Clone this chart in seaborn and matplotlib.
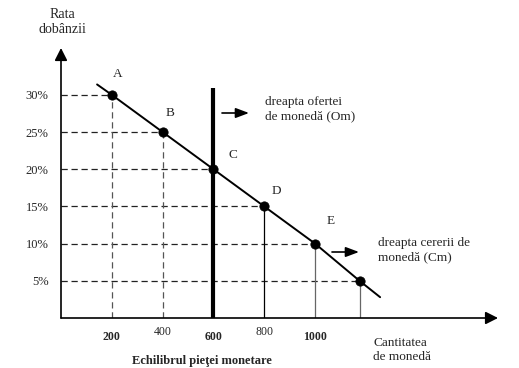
import matplotlib
matplotlib.use("Agg")
import matplotlib.pyplot as plt
import matplotlib.transforms as mtransforms
import seaborn as sns
import pandas as pd

# money market data
quantity = [200, 400, 600, 800, 1000, 1175]
rate = [30, 25, 20, 15, 10, 5]
point_names = ["A", "B", "C", "D", "E", ""]
rate_ticks = [5, 10, 15, 20, 25, 30]
rate_tick_labels = ["5%", "10%", "15%", "20%", "25%", "30%"]
qty_ticks = [200, 400, 600, 800, 1000]
qty_tick_labels = ["200", "400", "600", "800", "1000"]
# demand line runs a little beyond the first and last points
demand_x = [142, 200, 400, 600, 800, 1000, 1175, 1256]
demand_y = [31.4, 30, 25, 20, 15, 10, 5, 2.8]
supply_q = 600
supply_top = 30.9

sns.set_style("white")
plt.rcParams["font.family"] = ["Liberation Serif", "DejaVu Serif"]

W, H = 519, 368
fig = plt.figure(figsize=(W / 100, H / 100), dpi=100)
ax = fig.add_axes([61 / W, 50 / H, (498 - 61) / W, (318 - 48) / H])
ax.set_xlim(0, 1720)
ax.set_ylim(0, 36.3)
for s in ax.spines.values():
    s.set_visible(False)

def fpx(px, py):
    # figure pixel (from top-left) -> figure fraction
    return px / W, 1 - py / H

df = pd.DataFrame({"q": quantity, "r": rate, "name": point_names})
dline = pd.DataFrame({"q": demand_x, "r": demand_y})

# guide lines
ax.hlines(df["r"], 0, df["q"], colors="#222222", linestyles=(0, (5, 3)), lw=0.9)
ax.vlines(df["q"][:2], 0, df["r"][:2], colors="#555555", linestyles=(0, (5, 3)), lw=0.9)
ax.vlines(df["q"][3], 0, df["r"][3], colors="black", lw=0.9)
ax.vlines(df["q"][4:], 0, df["r"][4:], colors="#666666", lw=0.9)

# supply (vertical) and demand lines
ax.vlines(supply_q, 0, supply_top, colors="black", lw=3)
sns.lineplot(data=dline, x="q", y="r", ax=ax, color="black", lw=1.4, sort=False)
sns.scatterplot(data=df, x="q", y="r", ax=ax, color="black", s=45, edgecolor="black", zorder=5)

offsets = {"A": (4, 15), "B": (5, 14), "C": (14, 10), "D": (9, 11), "E": (11, 16)}
for _, row in df.iterrows():
    if row["name"]:
        ax.annotate(row["name"], (row["q"], row["r"]), xytext=offsets[row["name"]],
                    textcoords="offset points", ha="center", va="center", fontsize=9.5)

# axes with arrows
arrow = dict(arrowstyle="-|>,head_length=0.75,head_width=0.38", lw=1.2, color="black",
             shrinkA=0, shrinkB=0)
ax.annotate("", xy=(1, 0), xytext=(0, 0), xycoords="axes fraction", arrowprops=arrow)
ax.annotate("", xy=(0, 1), xytext=(0, 0), xycoords="axes fraction", arrowprops=arrow)

ax.set_yticks(rate_ticks, rate_tick_labels, fontsize=9)
ax.set_xticks(qty_ticks, qty_tick_labels, fontsize=8.5, fontweight="bold")
ax.tick_params(axis="both", length=0)
ax.tick_params(axis="y", pad=9)
ax.tick_params(axis="x", pad=9)
for i, lbl in enumerate(ax.get_xticklabels()):
    if i in (1, 3):
        lbl.set_transform(lbl.get_transform() + mtransforms.ScaledTranslation(0, 3 / 72, fig.dpi_scale_trans))
        lbl.set_fontweight("normal")
ax.set_xlabel("")
ax.set_ylabel("")
ax.grid(False)

# shift arrows
ax.annotate("", xy=fpx(249, 113), xytext=fpx(222, 113), xycoords="figure fraction",
            arrowprops=dict(arrowstyle="-|>,head_length=0.8,head_width=0.3", lw=1.2, color="black", shrinkA=0, shrinkB=0))
ax.annotate("", xy=fpx(359, 252), xytext=fpx(332, 252), xycoords="figure fraction",
            arrowprops=dict(arrowstyle="-|>,head_length=0.8,head_width=0.3", lw=1.2, color="black", shrinkA=0, shrinkB=0))

# texts
fig.text(*fpx(62, 22), "Rata\ndobânzii", ha="center", va="center", fontsize=10, linespacing=1.25)
fig.text(*fpx(265, 109), "dreapta ofertei\nde monedă (Om)", ha="left", va="center", fontsize=9.5, linespacing=1.25)
fig.text(*fpx(378, 250), "dreapta cererii de\nmonedă (Cm)", ha="left", va="center", fontsize=9.5, linespacing=1.25)
fig.text(*fpx(373, 350), "Cantitatea\nde monedă", ha="left", va="center", fontsize=9.5, linespacing=1.25)
fig.text(*fpx(132, 367), "Echilibrul pieţei monetare", ha="left", va="bottom", fontsize=9, fontweight="bold")

fig.savefig("out.png", dpi=100)
